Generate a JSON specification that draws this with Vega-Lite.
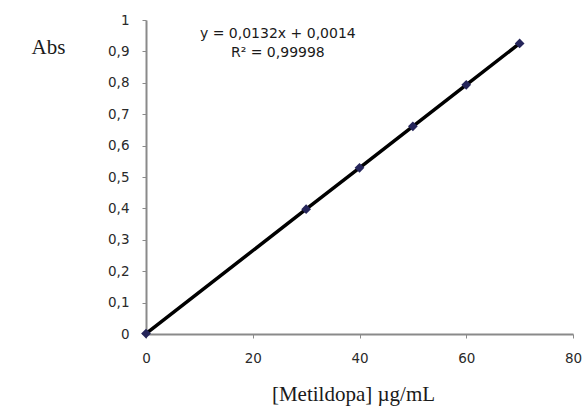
{
  "$schema": "https://vega.github.io/schema/vega-lite/v6.json",
  "width": 427,
  "height": 314,
  "autosize": {"type": "none"},
  "padding": {"left": 146, "top": 20, "right": 11, "bottom": 73},
  "background": "white",
  "config": {"view": {"stroke": null}},
  "datasets": {
    "pts": [
      {"c": 0, "abs": 0.0014},
      {"c": 30, "abs": 0.3974},
      {"c": 40, "abs": 0.5294},
      {"c": 50, "abs": 0.6614},
      {"c": 60, "abs": 0.7934},
      {"c": 70, "abs": 0.9254}
    ],
    "notes": [
      {"c": 24.7, "abs": 0.954, "txt": "y = 0,0132x + 0,0014"},
      {"c": 24.7, "abs": 0.895, "txt": "R² = 0,99998"}
    ]
  },
  "encoding": {
    "x": {"field": "c", "type": "quantitative", "scale": {"domain": [0, 80], "nice": false},
      "axis": {"tickCount": 4, "grid": false, "title": "[Metildopa] µg/mL",
        "labelFlush": false, "labelOverlap": false,
        "titleFont": "Liberation Serif", "titleFontSize": 21, "titleFontWeight": "normal", "titleColor": "#1a1a1a",
        "titleX": 207, "titleY": 66, "titleAlign": "center", "titleBaseline": "alphabetic",
        "labelFont": "DejaVu Sans", "labelFontSize": 13.5, "labelColor": "#2a2a2a",
        "domainColor": "#8a8a8a", "tickColor": "#8a8a8a", "tickSize": 4, "labelPadding": 13, "domainWidth": 2}},
    "y": {"field": "abs", "type": "quantitative", "scale": {"domain": [0, 1], "nice": false},
      "axis": {"tickCount": 10, "grid": false,
        "format": "~g", "labelExpr": "replace(datum.label, '.', ',')",
        "labelFlush": false, "labelOverlap": false,
        "title": "Abs", "titleAngle": 0, "titleX": -98, "titleY": 33, "titleAlign": "center", "titleBaseline": "alphabetic",
        "titleFont": "Liberation Serif", "titleFontSize": 21, "titleFontWeight": "normal", "titleColor": "#1a1a1a",
        "labelFont": "DejaVu Sans", "labelFontSize": 13.5, "labelColor": "#2a2a2a",
        "domainColor": "#8a8a8a", "tickColor": "#8a8a8a", "tickSize": 4, "labelPadding": 13, "domainWidth": 2}}
  },
  "layer": [
    {
      "data": {"name": "pts"},
      "mark": {"type": "line", "color": "black", "strokeWidth": 3.5}
    },
    {
      "data": {"name": "pts"},
      "mark": {"type": "point", "shape": "diamond", "filled": true, "color": "#25255a", "size": 95, "opacity": 1}
    },
    {
      "data": {"name": "notes"},
      "mark": {"type": "text", "font": "DejaVu Sans", "fontSize": 14, "color": "#1a1a1a", "align": "center", "baseline": "middle"},
      "encoding": {
        "text": {"field": "txt"}
      }
    }
  ]
}
